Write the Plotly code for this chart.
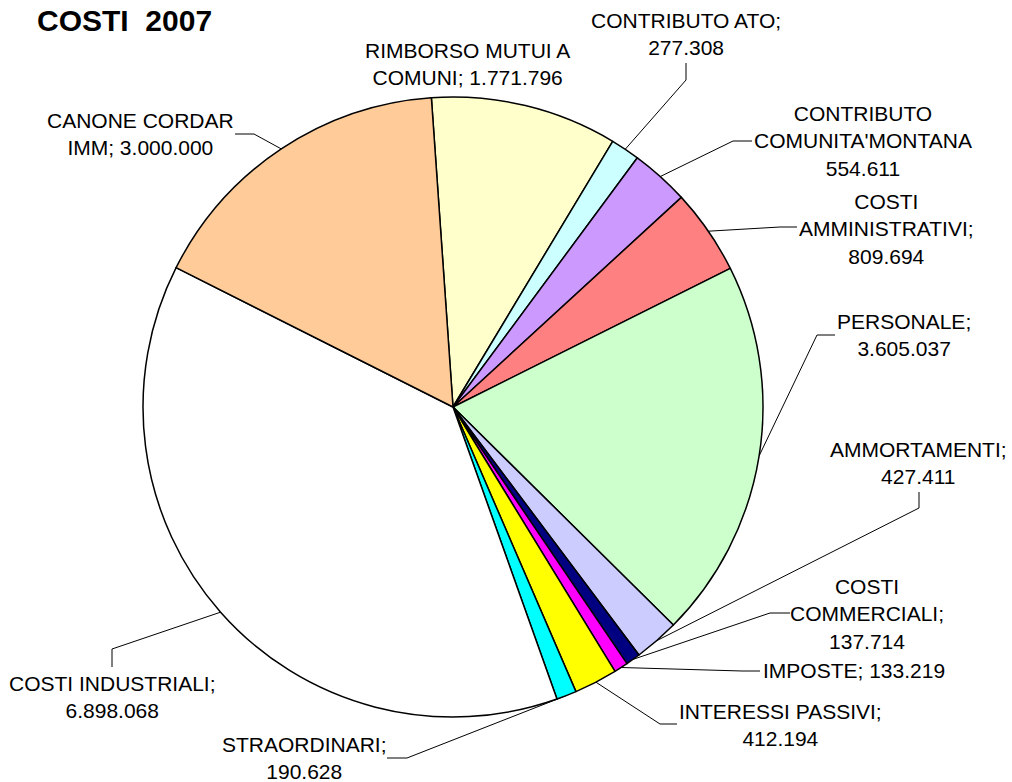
import numpy as np
import plotly.graph_objects as go

# ---------------- data ----------------
categories = [
    "RIMBORSO MUTUI A COMUNI", "CONTRIBUTO ATO", "CONTRIBUTO COMUNITA'MONTANA",
    "COSTI AMMINISTRATIVI", "PERSONALE", "AMMORTAMENTI", "COSTI COMMERCIALI",
    "IMPOSTE", "INTERESSI PASSIVI", "STRAORDINARI", "COSTI INDUSTRIALI",
    "CANONE CORDAR IMM",
]
values = [1771796, 277308, 554611, 809694, 3605037, 427411, 137714,
          133219, 412194, 190628, 6898068, 3000000]
label_texts = [
    "RIMBORSO MUTUI A<br>COMUNI; 1.771.796",
    "CONTRIBUTO ATO;<br>277.308",
    "CONTRIBUTO<br>COMUNITA'MONTANA<br>554.611",
    "COSTI<br>AMMINISTRATIVI;<br>809.694",
    "PERSONALE;<br>3.605.037",
    "AMMORTAMENTI;<br>427.411",
    "COSTI<br>COMMERCIALI;<br>137.714",
    "IMPOSTE; 133.219",
    "INTERESSI PASSIVI;<br>412.194",
    "STRAORDINARI;<br>190.628",
    "COSTI INDUSTRIALI;<br>6.898.068",
    "CANONE CORDAR<br>IMM; 3.000.000",
]
colors = ["#FFFFCC", "#CCFFFF", "#CC99FF", "#FF8080", "#CCFFCC", "#CCCCFF",
          "#000080", "#FF00FF", "#FFFF00", "#00FFFF", "#FFFFFF", "#FFCC99"]
title_text = "COSTI\u00a0 2007"

# ---------------- layout constants (pixels) ----------------
W, H = 1012, 782
CX, CY, R = 453, 407, 310
ROTATION = -4
FONT = "Liberation Sans, Arial, sans-serif"

# label centres
label_pos = [(467, 64), (686, 34), (863, 141), (886, 229), (904, 335),
             (918, 463), (867, 614), (854, 670), (780, 725), (304, 758),
             (112, 697), (140, 134)]
# leader line: label end point, elbow point (None = no leader)
leader = [None,
          ((686, 63), (686, 80)),
          ((752, 141), (733, 141)),
          ((797, 227), (780, 227)),
          ((835, 335), (817, 335)),
          ((919, 492), (919, 508)),
          ((790, 613), (770, 613)),
          ((760, 671), (742, 671)),
          ((677, 724), (660, 724)),
          ((387, 758), (407, 758)),
          ((112, 667), (112, 649)),
          ((235, 134), (254, 134))]

vals = np.array(values, dtype=float)
total = vals.sum()
start = ROTATION + 360 * (np.cumsum(vals) - vals) / total
mid = np.radians(start + 180 * vals / total)
edge_x = CX + R * np.sin(mid)
edge_y = CY - R * np.cos(mid)

fig = go.Figure()
fig.add_trace(go.Pie(
    values=values, labels=categories, sort=False, direction="clockwise",
    rotation=ROTATION, textinfo="none", hoverinfo="label+value",
    marker=dict(colors=colors, line=dict(color="black", width=1.5)),
    domain=dict(x=[(CX - R) / W, (CX + R) / W],
                y=[1 - (CY + R) / H, 1 - (CY - R) / H]),
    showlegend=False,
))

lx, ly = [], []
for i, ld in enumerate(leader):
    if ld is None:
        continue
    (ax, ay), (bx, by) = ld
    lx += [ax, bx, edge_x[i], None]
    ly += [ay, by, edge_y[i], None]
fig.add_trace(go.Scatter(x=lx, y=ly, mode="lines",
                         line=dict(color="black", width=1),
                         hoverinfo="skip", showlegend=False))

annotations = []
for txt, (px, py) in zip(label_texts, label_pos):
    annotations.append(dict(x=px, y=py, xref="x", yref="y", text=txt,
                            showarrow=False, align="center",
                            xanchor="center", yanchor="middle",
                            font=dict(family=FONT, size=21, color="black")))
annotations.append(dict(x=35, y=20, xref="x", yref="y",
                        text="<b>" + title_text + "</b>", showarrow=False,
                        xanchor="left", yanchor="middle",
                        font=dict(family=FONT, size=30, color="black")))

fig.update_layout(
    width=W, height=H, margin=dict(l=0, r=0, t=0, b=0, pad=0),
    paper_bgcolor="white", plot_bgcolor="rgba(0,0,0,0)",
    showlegend=False, annotations=annotations,
    xaxis=dict(range=[0, W], visible=False, fixedrange=True, domain=[0, 1]),
    yaxis=dict(range=[H, 0], visible=False, fixedrange=True, domain=[0, 1]),
)

fig.write_html("out.html", config={"displayModeBar": False},
               post_script="document.body.style.margin='0';")
